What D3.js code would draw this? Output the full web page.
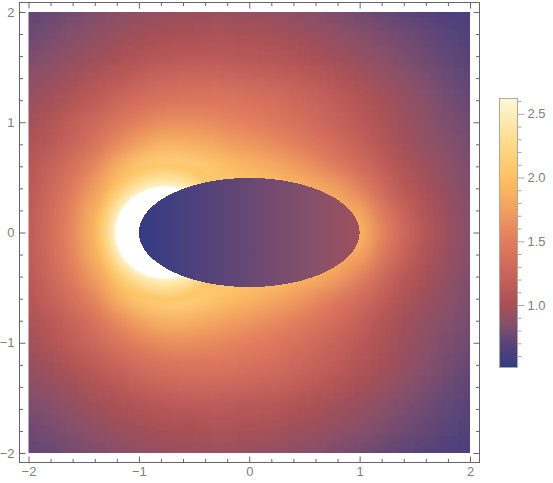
<!DOCTYPE html>
<html>
<head>
<meta charset="utf-8">
<script src="https://d3js.org/d3.v7.min.js"></script>
<style>
body { margin: 0; background: #fff; }
svg { display: block; }
.tick text { font-family: "Liberation Sans", sans-serif; font-size: 13px; fill: #808080; }
</style>
</head>
<body>
<div id="chart"></div>
<script>
// colour legend stops
var colorValues = [0.51, 0.7, 0.85, 1.0, 1.2, 1.5, 1.75, 2.0, 2.3, 2.62];
var colorHex = ["#333b85", "#5a4478", "#85506a", "#a84f55", "#c5605a", "#e27c5d", "#f3a05f", "#fdc262", "#fedd90", "#fff8d5"];

// grid centres of the density cells
var gridX = [-2, -1.8, -1.6, -1.4, -1.2, -1, -0.8, -0.6, -0.4, -0.2, 0, 0.2, 0.4, 0.6, 0.8, 1, 1.2, 1.4, 1.6, 1.8, 2];
var gridY = [2, 1.8, 1.6, 1.4, 1.2, 1, 0.8, 0.6, 0.4, 0.2, 0];

// values, upper half (the plot is mirrored about y = 0)
var upperRows = [
    [.72, .75, .79, .83, .86, .89, .91, .93, .93, .93, .92, .90, .87, .85, .81, .78, .74, .70, .67, .64, .62],
    [.76, .80, .85, .89, .93, .97, 1.0, 1.01, 1.02, 1.02, 1.01, .99, .97, .93, .90, .86, .82, .78, .73, .69, .65],
    [.81, .85, .90, .95, 1.0, 1.05, 1.09, 1.11, 1.12, 1.11, 1.09, 1.07, 1.04, 1.0, .96, .91, .87, .82, .77, .72, .68],
    [.87, .91, .97, 1.04, 1.11, 1.18, 1.23, 1.26, 1.27, 1.25, 1.23, 1.2, 1.16, 1.11, 1.05, .99, .93, .87, .81, .76, .71],
    [.92, .98, 1.06, 1.14, 1.24, 1.33, 1.39, 1.42, 1.43, 1.41, 1.38, 1.34, 1.29, 1.22, 1.15, 1.07, .99, .92, .86, .79, .74],
    [.97, 1.06, 1.17, 1.28, 1.4, 1.52, 1.6, 1.62, 1.6, 1.55, 1.5, 1.45, 1.38, 1.3, 1.22, 1.12, 1.03, .95, .88, .82, .78],
    [1.03, 1.12, 1.24, 1.38, 1.57, 1.75, 1.88, 1.88, 1.82, 1.74, 1.68, 1.6, 1.52, 1.42, 1.32, 1.2, 1.08, .98, .90, .85, .80],
    [1.08, 1.2, 1.36, 1.55, 1.85, 2.1, 2.2, 2.2, 2.1, 1.98, 1.9, 1.82, 1.72, 1.6, 1.45, 1.32, 1.17, 1.04, .95, .88, .82],
    [1.12, 1.27, 1.47, 1.73, 2.0, 2.1, 2.1, 2.1, 2.1, 2.08, 2.05, 2.0, 1.92, 1.85, 1.74, 1.52, 1.3, 1.12, 1.0, .9, .83],
    [1.14, 1.31, 1.54, 1.88, 2.0, 2.05, 2.05, 2.05, 2.05, 2.05, 2.05, 2.0, 1.95, 1.92, 1.88, 1.78, 1.45, 1.22, 1.05, .93, .84],
    [1.15, 1.33, 1.58, 1.92, 2.0, 2.05, 2.05, 2.05, 2.05, 2.05, 2.05, 2.0, 1.95, 1.95, 1.95, 1.95, 1.55, 1.28, 1.08, .95, .85]
];

// bright halo round the crescent, outer ring first
var haloValue = [2.0, 2.1, 2.2, 2.3, 2.4, 2.5, 2.6];
var haloRx = [.62, .59, .56, .53, .505, .48, .465];
var haloRy = [.64, .60, .57, .53, .49, .45, .43];
var crescent = { cx: -0.76, cy: 0, rx: 0.456, ry: 0.42 };

// low disc in front, shade only changes along x
var discX = [-1, -0.8, -0.6, -0.4, -0.2, 0, 0.2, 0.4, 0.6, 0.8, 1];
var discValue = [.52, .56, .61, .66, .71, .75, .79, .82, .86, .91, .96];
var disc = { cx: 0, cy: 0, rx: 1, ry: 0.495 };

var majorTicks = [-2, -1, 0, 1, 2];
var minorTicks = d3.range(-20, 21, 2).map(function (d) { return d / 10; });
var barMajor = [1, 1.5, 2, 2.5];
var barMinor = [0.6, 0.7, 0.8, 0.9, 1.1, 1.2, 1.3, 1.4, 1.6, 1.7, 1.8, 1.9, 2.1, 2.2, 2.3, 2.4, 2.6];

var svg = d3.select("#chart")
    .append("svg")
    .attr("width", 553)
    .attr("height", 483);

var x = d3.scaleLinear().domain([-2, 2]).range([28.5, 470]);
var y = d3.scaleLinear().domain([-2, 2]).range([453, 12]);
var color = d3.scaleLinear().domain(colorValues).range(colorHex).clamp(true);

var defs = svg.append("defs");

defs.append("clipPath")
    .attr("id", "plotClip")
    .append("rect")
    .attr("x", x(-2))
    .attr("y", y(2))
    .attr("width", x(2) - x(-2))
    .attr("height", y(-2) - y(2));

var blurCells = defs.append("filter")
    .attr("id", "blurCells")
    .attr("filterUnits", "userSpaceOnUse")
    .attr("x", -40).attr("y", -40).attr("width", 640).attr("height", 560);
blurCells.append("feGaussianBlur").attr("stdDeviation", 9);

var blurHalo = defs.append("filter")
    .attr("id", "blurHalo")
    .attr("filterUnits", "userSpaceOnUse")
    .attr("x", 0).attr("y", 100).attr("width", 400).attr("height", 300);
blurHalo.append("feGaussianBlur").attr("stdDeviation", 3);

var discGradient = defs.append("linearGradient")
    .attr("id", "discGradient")
    .attr("gradientUnits", "userSpaceOnUse")
    .attr("x1", x(-1)).attr("x2", x(1))
    .attr("y1", 0).attr("y2", 0);
discGradient.selectAll("stop")
    .data(discX)
    .enter()
    .append("stop")
    .attr("offset", function (d) { return (d + 1) / 2; })
    .attr("stop-color", function (d, i) { return color(discValue[i]); });

var barGradient = defs.append("linearGradient")
    .attr("id", "barGradient")
    .attr("x1", 0).attr("x2", 0)
    .attr("y1", 1).attr("y2", 0);
barGradient.selectAll("stop")
    .data(colorValues)
    .enter()
    .append("stop")
    .attr("offset", function (d) { return (d - 0.51) / (2.62 - 0.51); })
    .attr("stop-color", function (d, i) { return colorHex[i]; });

// Density cells
var allRows = upperRows.concat(upperRows.slice(0, -1).reverse());
var allY = gridY.concat(gridY.slice(0, -1).reverse().map(function (d) { return -d; }));
var cells = [];
allRows.forEach(function (row, j) {
    row.forEach(function (v, i) {
        cells.push({ x: gridX[i], y: allY[j], v: v });
    });
});

var plot = svg.append("g").attr("clip-path", "url(#plotClip)");

plot.append("g")
    .attr("filter", "url(#blurCells)")
    .selectAll("rect")
    .data(cells)
    .enter()
    .append("rect")
    .attr("x", function (d) { return x(d.x - 0.1) - (d.x === -2 ? 30 : 0); })
    .attr("y", function (d) { return y(d.y + 0.1) - (d.y === 2 ? 30 : 0); })
    .attr("width", function (d) { return x(0.2) - x(0) + (Math.abs(d.x) === 2 ? 30 : 0) + 0.5; })
    .attr("height", function (d) { return y(0) - y(0.2) + (Math.abs(d.y) === 2 ? 30 : 0) + 0.5; })
    .style("fill", function (d) { return color(d.v); });

// Halo
plot.append("g")
    .attr("filter", "url(#blurHalo)")
    .selectAll("ellipse")
    .data(haloValue)
    .enter()
    .append("ellipse")
    .attr("cx", x(crescent.cx))
    .attr("cy", y(crescent.cy))
    .attr("rx", function (d, i) { return x(haloRx[i]) - x(0); })
    .attr("ry", function (d, i) { return y(0) - y(haloRy[i]); })
    .style("fill", function (d) { return color(d); });

plot.append("ellipse")
    .attr("cx", x(crescent.cx))
    .attr("cy", y(crescent.cy))
    .attr("rx", x(crescent.rx) - x(0))
    .attr("ry", y(0) - y(crescent.ry))
    .style("fill", "#fff");

plot.append("ellipse")
    .attr("cx", x(disc.cx))
    .attr("cy", y(disc.cy))
    .attr("rx", x(disc.rx) - x(0))
    .attr("ry", y(0) - y(disc.ry))
    .attr("shape-rendering", "crispEdges")
    .style("fill", "url(#discGradient)");

// Frame and ticks
var frame = { left: 19.5, right: 479.5, top: 2.5, bottom: 462.5 };
var axisColor = "#666";

function labelX(d) { return d < 0 ? "\u2212" + (-d) : "" + d; }

function drawAxis(axisFn, scale, pos, ticks, size, format, pad) {
    var g = svg.append("g")
        .attr("transform", pos)
        .call(axisFn(scale).tickValues(ticks).tickSize(size).tickPadding(pad).tickFormat(format));
    g.select(".domain").remove();
    g.selectAll("line").attr("stroke", axisColor);
    return g;
}

var noLabel = function () { return ""; };
var minorOnly = minorTicks.filter(function (d) { return majorTicks.indexOf(d) < 0; });

// tickSize is negative so the marks point into the frame
drawAxis(d3.axisBottom, x, "translate(0," + frame.bottom + ")", minorOnly, -3.5, noLabel, 0);
drawAxis(d3.axisBottom, x, "translate(0," + frame.bottom + ")", majorTicks, -6, labelX, 4);
drawAxis(d3.axisTop, x, "translate(0," + frame.top + ")", minorOnly, -3.5, noLabel, 0);
drawAxis(d3.axisTop, x, "translate(0," + frame.top + ")", majorTicks, -6, noLabel, 0);
drawAxis(d3.axisLeft, y, "translate(" + frame.left + ",0)", minorOnly, -3.5, noLabel, 0);
drawAxis(d3.axisLeft, y, "translate(" + frame.left + ",0)", majorTicks, -6, labelX, 5);
drawAxis(d3.axisRight, y, "translate(" + frame.right + ",0)", minorOnly, -3.5, noLabel, 0);
drawAxis(d3.axisRight, y, "translate(" + frame.right + ",0)", majorTicks, -6, noLabel, 0);

svg.append("rect")
    .attr("x", frame.left)
    .attr("y", frame.top)
    .attr("width", frame.right - frame.left)
    .attr("height", frame.bottom - frame.top)
    .attr("fill", "none")
    .attr("stroke", axisColor);

// Colour bar
var barY = d3.scaleLinear().domain([0.51, 2.62]).range([367.5, 98.5]);
var barLeft = 499.5, barRight = 517.5;

svg.append("rect")
    .attr("x", barLeft)
    .attr("y", barY(2.62))
    .attr("width", barRight - barLeft)
    .attr("height", barY(0.51) - barY(2.62))
    .attr("fill", "url(#barGradient)")
    .attr("stroke", "#a8a8a0");

function barFormat(d) { return d3.format(".1f")(d); }

var barAxisMinor = svg.append("g")
    .attr("transform", "translate(" + barRight + ",0)")
    .call(d3.axisRight(barY).tickValues(barMinor).tickSize(4).tickFormat(noLabel));
barAxisMinor.select(".domain").remove();
barAxisMinor.selectAll("line").attr("stroke", "#aaa");

var barAxisMajor = svg.append("g")
    .attr("transform", "translate(" + barRight + ",0)")
    .call(d3.axisRight(barY).tickValues(barMajor).tickSize(7).tickPadding(3).tickFormat(barFormat));
barAxisMajor.select(".domain").remove();
barAxisMajor.selectAll("line").attr("stroke", "#aaa");
</script>
</body>
</html>
